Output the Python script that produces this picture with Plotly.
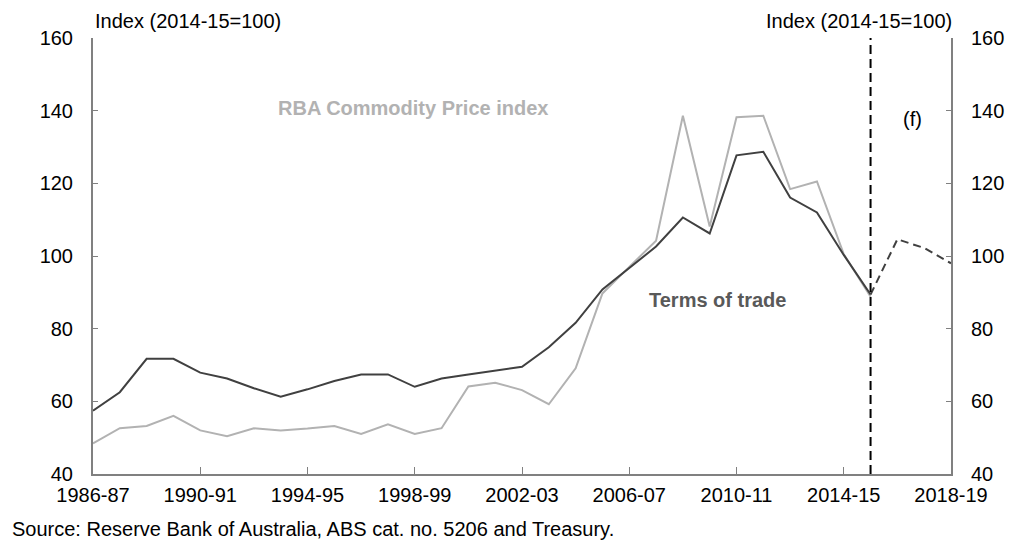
import plotly.graph_objects as go

# financial years on the x axis
years = ['1986-87', '1987-88', '1988-89', '1989-90', '1990-91', '1991-92', '1992-93',
         '1993-94', '1994-95', '1995-96', '1996-97', '1997-98', '1998-99', '1999-00',
         '2000-01', '2001-02', '2002-03', '2003-04', '2004-05', '2005-06', '2006-07',
         '2007-08', '2008-09', '2009-10', '2010-11', '2011-12', '2012-13', '2013-14',
         '2014-15', '2015-16', '2016-17', '2017-18', '2018-19']

# actuals run to 2015-16
tot_years = years[:30]
terms_of_trade = [57.4, 62.5, 71.7, 71.7, 67.9, 66.3, 63.6, 61.3, 63.3, 65.6,
                  67.4, 67.4, 64.0, 66.3, 67.4, 68.4, 69.5, 74.9, 81.6, 90.8,
                  96.8, 102.6, 110.6, 106.2, 127.7, 128.7, 116.1, 112.0, 100.3, 89.4]
commodity_prices = [48.4, 52.6, 53.2, 56.0, 52.0, 50.4, 52.6, 52.0, 52.5, 53.2,
                    51.0, 53.7, 51.0, 52.6, 64.1, 65.1, 63.1, 59.2, 69.1, 89.7,
                    97.0, 104.2, 138.6, 108.1, 138.2, 138.6, 118.4, 120.5, 100.5, 88.8]

# forecast, 2015-16 to 2018-19
fc_years = years[29:]
tot_forecast = [89.4, 104.6, 102.2, 98.0]

tick_years = years[::4]

font_family = 'Arial, Liberation Sans, sans-serif'
axis_grey = 'rgb(128,128,128)'
fsize = 20

fig = go.Figure()

fig.add_trace(go.Scatter(x=tot_years, y=commodity_prices, mode='lines',
                         line=dict(color='rgb(178,178,178)', width=2),
                         name='RBA Commodity Price index'))
fig.add_trace(go.Scatter(x=tot_years, y=terms_of_trade, mode='lines',
                         line=dict(color='rgb(64,64,64)', width=2),
                         name='Terms of trade'))
fig.add_trace(go.Scatter(x=fc_years, y=tot_forecast, mode='lines', yaxis='y2',
                         line=dict(color='rgb(64,64,64)', width=2, dash='8px,5px'),
                         name='Terms of trade (f)'))

# forecast divider
fig.add_shape(type='line', xref='x', yref='paper', x0='2015-16', x1='2015-16',
              y0=0, y1=1, line=dict(color='black', width=2, dash='9px,5px'))

yax = dict(
    range=[40, 160],
    dtick=20,
    ticks='inside',
    ticklen=5,
    tickcolor=axis_grey,
    showline=True,
    linecolor=axis_grey,
    linewidth=2,
    showgrid=False,
    zeroline=False,
    ticklabelstandoff=14,
    tickfont=dict(size=fsize),
)

fig.update_layout(
    width=1016, height=543,
    autosize=False,
    margin=dict(l=93, r=60, t=38, b=69),
    plot_bgcolor='white',
    paper_bgcolor='white',
    showlegend=False,
    font=dict(family=font_family, size=fsize, color='black'),
    xaxis=dict(
        type='category',
        categoryorder='array',
        categoryarray=years,
        range=[0, 32],
        tickvals=tick_years,
        ticktext=tick_years,
        ticks='inside',
        ticklen=7,
        tickcolor=axis_grey,
        tickwidth=1,
        showline=True,
        linecolor=axis_grey,
        linewidth=2,
        showgrid=False,
        zeroline=False,
        ticklabelstandoff=2,
        tickfont=dict(size=fsize),
    ),
    yaxis=yax,
    yaxis2=dict(yax, overlaying='y', side='right'),
)

annotations = []
annotations.append(dict(xref='paper', yref='paper', x=0, y=1, xanchor='left', yanchor='bottom',
                        yshift=4, text='Index (2014-15=100)', showarrow=False, font=dict(size=fsize)))
annotations.append(dict(xref='paper', yref='paper', x=1, y=1, xanchor='right', yanchor='bottom',
                        xshift=3, yshift=4, text='Index (2014-15=100)', showarrow=False,
                        font=dict(size=fsize)))
annotations.append(dict(xref='paper', yref='paper', x=0.373, y=0.839, xanchor='center', yanchor='middle',
                        text='<b>RBA Commodity Price index</b>', showarrow=False,
                        font=dict(size=20, color='rgb(178,178,178)')))
annotations.append(dict(xref='paper', yref='paper', x=0.728, y=0.399, xanchor='center', yanchor='middle',
                        text='<b>Terms of trade</b>', showarrow=False,
                        font=dict(size=20, color='rgb(89,89,89)')))
annotations.append(dict(xref='paper', yref='paper', x=0.955, y=0.814, xanchor='center', yanchor='middle',
                        text='(f)', showarrow=False, font=dict(size=fsize)))
annotations.append(dict(xref='paper', yref='paper', x=-0.0962, y=-0.0963, xanchor='left', yanchor='top',
                        text='Source: Reserve Bank of Australia, ABS cat. no. 5206 and Treasury.',
                        showarrow=False, font=dict(size=fsize)))
fig.update_layout(annotations=annotations)

# drop the default 8px page margin so the figure sits at the window corner
fig.write_html('out.html', config={'displayModeBar': False},
               post_script="document.body.style.margin='0';")
